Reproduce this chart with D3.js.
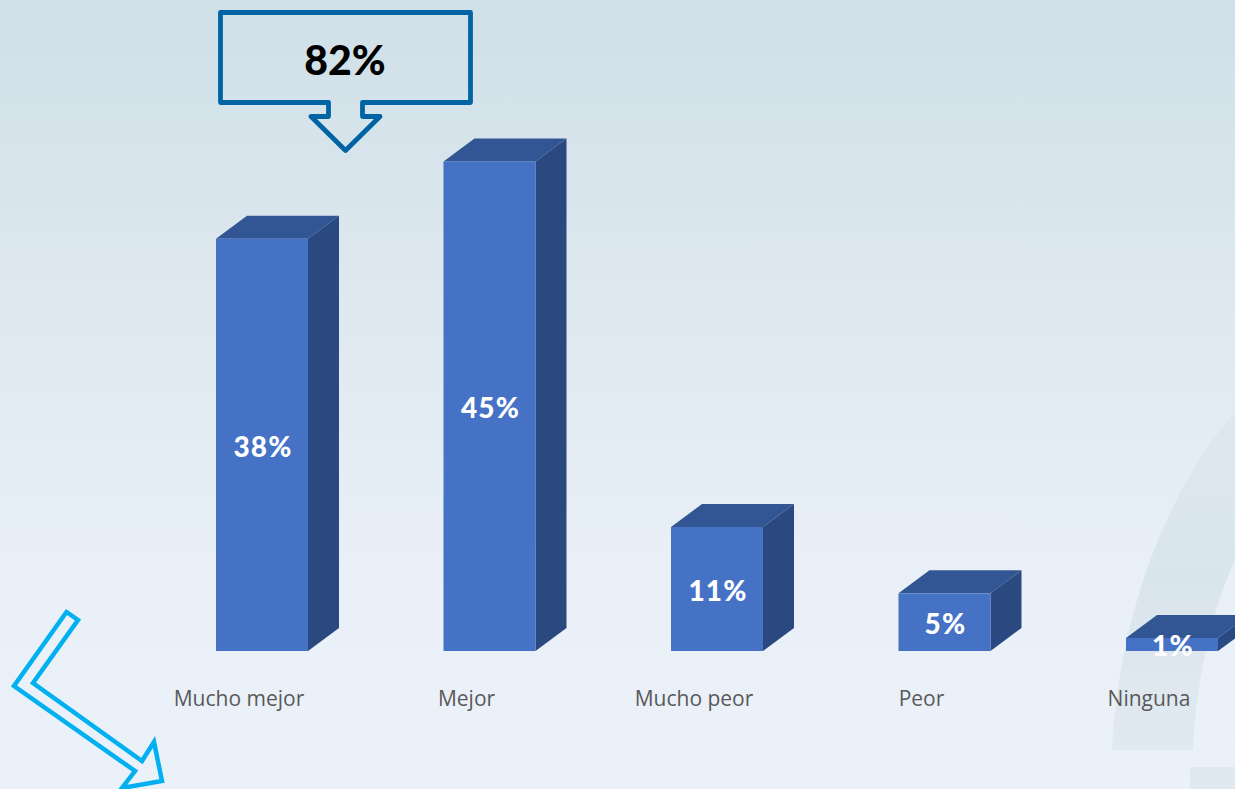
<!DOCTYPE html>
<html><head><meta charset="utf-8">
<script src="https://cdn.jsdelivr.net/npm/d3@7/dist/d3.min.js"></script>
<style>html,body{margin:0;padding:0;overflow:hidden;background:#eaf0f8}svg{display:block}</style>
</head><body><div id="chart"></div>
<script>
const categories = ["Mucho mejor","Mejor","Mucho peor","Peor","Ninguna"];
const values = [37.9,45,11.4,5.3,1.2];
const calloutLabel = "82%";

const W=1235,H=789;
const svg=d3.select("#chart").append("svg").attr("width",W).attr("height",H);
const defs=svg.append("defs");
const g=defs.append("linearGradient").attr("id","bg").attr("x1",0).attr("y1",0).attr("x2",0).attr("y2",1);
[[0,"#cfe0e8"],[0.25,"#d9e5ec"],[0.5,"#e3ebf2"],[0.75,"#e9f0f7"],[1,"#ebf1f9"]].forEach(s=>g.append("stop").attr("offset",s[0]).attr("stop-color",s[1]));
svg.append("rect").attr("width",W).attr("height",H).attr("fill","url(#bg)");
defs.append("filter").attr("id","soft").append("feGaussianBlur").attr("stdDeviation",0.6);

// faint background swoosh
const sw=defs.append("linearGradient").attr("id","sw").attr("x1",0).attr("y1",0).attr("x2",0).attr("y2",1);
[[0,"#dde8ee"],[0.5,"#d9e5ec"],[0.8,"#dfe7ef"],[1,"#e0e8f0"]].forEach(s=>sw.append("stop").attr("offset",s[0]).attr("stop-color",s[1]));
svg.append("path").attr("d","M1235,412 C1175,480 1120,600 1112,750 L1193,750 C1196,680 1212,610 1235,560 Z").attr("fill","url(#sw)").attr("filter","url(#soft)");
svg.append("rect").attr("x",1190).attr("y",767).attr("width",45).attr("height",22).attr("fill","#e0e8f0");

const x=d3.scaleBand().domain(categories).range([125.25,1262.75]).paddingInner(0).paddingOuter(0);
const y=d3.scaleLinear().domain([0,45]).range([651,161.5]);
const barW=92, depX=31, depY=23, barShift=-23;
const barX=d=>x(d)+x.bandwidth()/2+barShift;

const bars=svg.append("g").selectAll("g").data(categories.map((c,i)=>({c,v:values[i]}))).join("g");
const solids=bars.append("g").attr("filter","url(#soft)");
solids.append("path").attr("fill","#325694")
 .attr("d",d=>{const a=barX(d.c),t=y(d.v);return `M${a},${t}L${a+depX},${t-depY}L${a+barW+depX},${t-depY}L${a+barW},${t}Z`});
solids.append("path").attr("fill","#2a4a80")
 .attr("d",d=>{const a=barX(d.c)+barW,t=y(d.v),b=y(0);return `M${a},${t}L${a+depX},${t-depY}L${a+depX},${b-depY}L${a},${b}Z`});
solids.append("rect").attr("fill","#4472c4")
 .attr("x",d=>barX(d.c)).attr("y",d=>y(d.v)).attr("width",barW).attr("height",d=>y(0)-y(d.v));
bars.append("text").attr("x",d=>barX(d.c)+barW/2+1).attr("y",d=>(y(d.v)+y(0))/2+12)
 .attr("text-anchor","middle").attr("fill","#fff")
 .style("font-family","Lato").style("font-weight",900).style("font-size","28px").style("letter-spacing","1.2px")
 .text(d=>d3.format(".0f")(d.v)+"%");

// category axis
const ax=svg.append("g").attr("transform","translate(0,651)").call(d3.axisBottom(x).tickSize(0).tickPadding(40));
ax.select(".domain").remove();
ax.selectAll("text").attr("fill","#595959").style("font-family","Open Sans").style("font-size","21px");

// callout
svg.append("path").attr("fill","none").attr("stroke","#0064a4").attr("stroke-width",4.8).attr("stroke-linejoin","round")
 .attr("d","M220.5,12.5H470.5V102.5H362.5V116.5H380L345.5,150.5L311,116.5H328.5V102.5H220.5Z");
svg.append("text").attr("x",345).attr("y",75).attr("text-anchor","middle").attr("fill","#000")
 .style("font-family","Lato").style("font-weight",900).style("font-size","41px").text(calloutLabel);

// bent arrow
svg.append("path").attr("fill","none").attr("stroke","#00b0f0").attr("stroke-width",4.5).attr("stroke-linejoin","miter")
 .attr("d","M66.5,612L78,620L33,683L142,761L154,742L162,781L122,788L135,771L14,686Z");
</script></body></html>
